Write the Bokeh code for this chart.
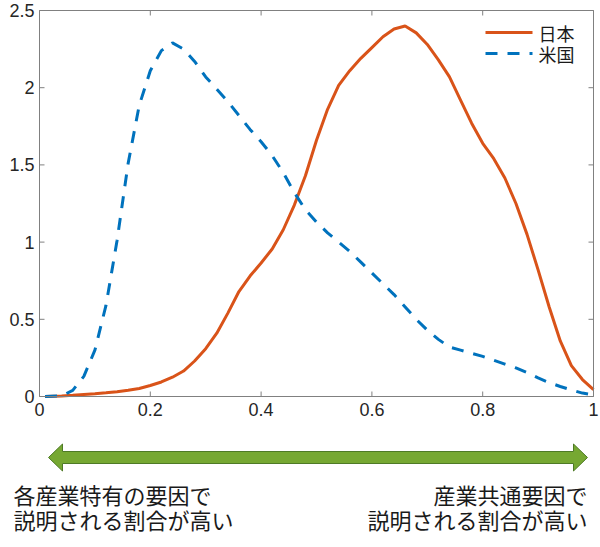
import numpy as np
from bokeh.plotting import figure
from bokeh.models import Range1d
from bokeh.core.properties import value
from bokeh.embed import file_html
from bokeh.resources import INLINE

# ---------------- data ----------------
x_grid = [0.01, 0.04, 0.06, 0.08, 0.10, 0.12, 0.14, 0.16, 0.18, 0.20,
          0.22, 0.24, 0.26, 0.28, 0.30, 0.32, 0.34, 0.36, 0.38, 0.40,
          0.42, 0.44, 0.46, 0.48, 0.50, 0.52, 0.54, 0.56, 0.58, 0.60,
          0.62, 0.64, 0.66, 0.68, 0.70, 0.72, 0.74, 0.76, 0.78, 0.80,
          0.82, 0.84, 0.86, 0.88, 0.90, 0.92, 0.94, 0.96, 0.98, 1.00]

japan = [0.0, 0.004, 0.008, 0.013, 0.018, 0.024, 0.031, 0.040, 0.052, 0.071,
         0.094, 0.125, 0.165, 0.23, 0.31, 0.41, 0.54, 0.68, 0.78, 0.865,
         0.955, 1.08, 1.24, 1.43, 1.66, 1.86, 2.015, 2.11, 2.19, 2.26,
         2.33, 2.38, 2.40, 2.355, 2.28, 2.18, 2.07, 1.92, 1.77, 1.64,
         1.54, 1.415, 1.25, 1.05, 0.82, 0.58, 0.36, 0.20, 0.11, 0.045]

usa = [0.0, 0.004, 0.04, 0.13, 0.30, 0.59, 1.01, 1.51, 1.885, 2.11,
       2.24, 2.29, 2.25, 2.17, 2.07, 1.99, 1.91, 1.82, 1.73, 1.65,
       1.56, 1.45, 1.32, 1.21, 1.13, 1.06, 1.00, 0.94, 0.87, 0.80,
       0.73, 0.66, 0.58, 0.50, 0.43, 0.37, 0.32, 0.30, 0.28, 0.26,
       0.235, 0.21, 0.185, 0.155, 0.12, 0.09, 0.065, 0.042, 0.022, 0.01]

series_names = ["日本", "米国"]

x_ticks = [0, 0.2, 0.4, 0.6, 0.8, 1]
x_tick_labels = ["0", "0.2", "0.4", "0.6", "0.8", "1"]
y_ticks = [0, 0.5, 1, 1.5, 2, 2.5]
y_tick_labels = ["0", "0.5", "1", "1.5", "2", "2.5"]

left_note = ["各産業特有の要因で", "説明される割合が高い"]
right_note = ["産業共通要因で", "説明される割合が高い"]

# ---------------- layout constants (pixels) ----------------
FONT = "Noto Sans CJK JP"
NUM_FONT = "Liberation Sans"
AX_COL = "#808080"
TXT_COL = "#262626"
W, H = 600, 547
FR_LEFT, FR_RIGHT, FR_TOP, FR_BOTTOM = 39, 593, 10, 396   # axes box in canvas pixels
X0, X1, Y0, Y1 = 0, 1, 0, 2.5
TICK = 5

ux = (X1 - X0) / (FR_RIGHT - FR_LEFT)   # data units per pixel
uy = (Y1 - Y0) / (FR_BOTTOM - FR_TOP)


def px_x(px):
    return X0 + (px - FR_LEFT) * ux


def px_y(py):
    return Y1 - (py - FR_TOP) * uy


x_range = Range1d(X0 - FR_LEFT * ux, X1 + (W - FR_RIGHT) * ux)
y_range = Range1d(Y0 - (H - FR_BOTTOM) * uy, Y1 + FR_TOP * uy)

p = figure(width=W, height=H, x_range=x_range, y_range=y_range,
           output_backend="svg", toolbar_location=None, min_border=0,
           x_axis_type=None, y_axis_type=None)
p.grid.visible = False
p.outline_line_color = None
p.background_fill_color = "white"
p.border_fill_color = "white"

styles = [dict(color="#D95319", line_width=3),
          dict(color="#0072BD", line_width=3, line_dash="12 10")]

# ---------------- data lines ----------------
p.line(x_grid, japan, **styles[0])
p.line(x_grid, usa, **styles[1])

# ---------------- axes box, ticks and tick labels ----------------
p.quad(left=[X0], right=[X1], bottom=[Y0], top=[Y1], fill_color=None,
       line_color=AX_COL, line_width=1)
nx, ny = len(x_ticks), len(y_ticks)
p.segment(x0=x_ticks, y0=[Y0] * nx, x1=x_ticks, y1=[Y0 + TICK * uy] * nx,
          line_color=AX_COL, line_width=1)
p.segment(x0=x_ticks, y0=[Y1] * nx, x1=x_ticks, y1=[Y1 - TICK * uy] * nx,
          line_color=AX_COL, line_width=1)
p.segment(x0=[X0] * ny, y0=y_ticks, x1=[X0 + TICK * ux] * ny, y1=y_ticks,
          line_color=AX_COL, line_width=1)
p.segment(x0=[X1] * ny, y0=y_ticks, x1=[X1 - TICK * ux] * ny, y1=y_ticks,
          line_color=AX_COL, line_width=1)

p.text(x=x_ticks, y=[Y0 - 6 * uy] * nx, text=x_tick_labels, text_font=value(NUM_FONT),
       text_font_size="18px", text_align="center", text_baseline="top", text_color=TXT_COL)
p.text(x=[X0 - 5 * ux] * ny, y=y_ticks, text=y_tick_labels, text_font=value(NUM_FONT),
       text_font_size="18px", text_align="right", text_baseline="middle", text_color=TXT_COL)

# ---------------- legend (top right, inside the box) ----------------
LEG_X0, LEG_X1, LEG_TEXT_X = 485, 532, 538
LEG_ROWS = [32, 53]
for name, st, row in zip(series_names, styles, LEG_ROWS):
    p.line([px_x(LEG_X0), px_x(LEG_X1)], [px_y(row), px_y(row)], **st)
p.text(x=[px_x(LEG_TEXT_X)] * len(series_names), y=[px_y(r) for r in LEG_ROWS],
       text=series_names, text_font=value(FONT), text_font_size="18px",
       text_align="left", text_baseline="middle", text_color="#1a1a1a")

# ---------------- annotation below the axes ----------------
ax_left, ax_right = px_x(48), px_x(587)
cy = px_y(457)
hl, sh, hh = 14 * ux, 6 * uy, 13.5 * uy
arrow_xs = [ax_left, ax_left + hl, ax_left + hl, ax_right - hl, ax_right - hl, ax_right,
            ax_right - hl, ax_right - hl, ax_left + hl, ax_left + hl]
arrow_ys = [cy, cy + hh, cy + sh, cy + sh, cy + hh, cy, cy - hh, cy - sh, cy - sh, cy - hh]
p.patch(arrow_xs, arrow_ys, fill_color="#76A832", line_color="#4E7A26", line_width=1)

line_y = [px_y(493), px_y(518)]
p.text(x=[px_x(13)] * 2, y=line_y, text=left_note, text_font=value(FONT),
       text_font_size="22px", text_align="left", text_baseline="middle", text_color="#1a1a1a")
p.text(x=[px_x(587)] * 2, y=line_y, text=right_note, text_font=value(FONT),
       text_font_size="22px", text_align="right", text_baseline="middle", text_color="#1a1a1a")

open("out.html", "w").write(file_html(p, INLINE))
